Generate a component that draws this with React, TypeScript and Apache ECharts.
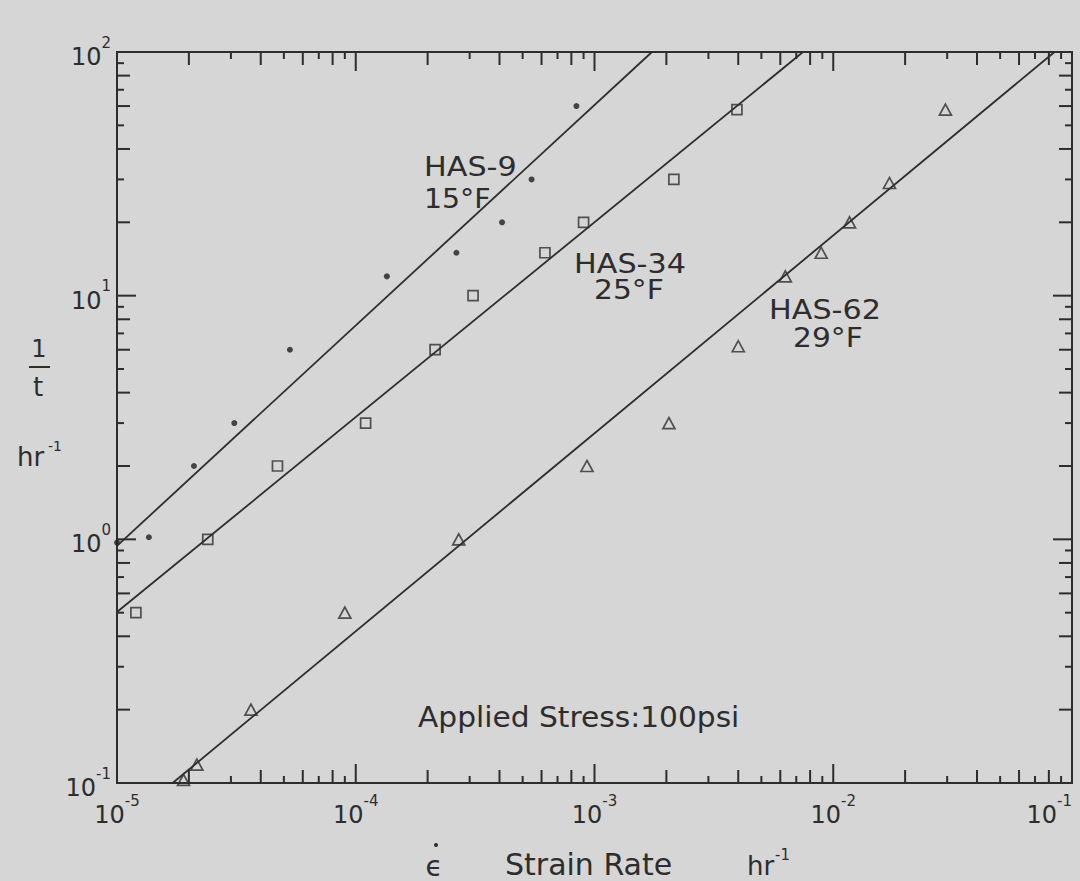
import React, { useEffect, useRef } from "react";
import * as echarts from "echarts";

// ---- axis ranges ----
const X_MIN = 1e-5;
const X_MAX = 1e-1;
const Y_MIN = 0.1;
const Y_MAX = 100;

// ---- data: [strain rate (hr^-1), 1/t (hr^-1)] ----
const has9Points: number[][] = [
  [1.0e-5, 0.97], [1.36e-5, 1.02], [2.1e-5, 2.0], [3.1e-5, 3.0], [5.3e-5, 6.0],
  [1.35e-4, 12], [2.64e-4, 15], [4.1e-4, 20], [5.45e-4, 30], [8.4e-4, 60],
];
const has34Points: number[][] = [
  [1.2e-5, 0.5], [2.4e-5, 1.0], [4.7e-5, 2.0], [1.1e-4, 3.0], [2.15e-4, 6.0],
  [3.1e-4, 10], [6.2e-4, 15], [9.0e-4, 20], [2.15e-3, 30], [3.95e-3, 58],
];
const has62Points: number[][] = [
  [1.9e-5, 0.103], [2.16e-5, 0.119], [3.64e-5, 0.2], [9.0e-5, 0.5], [2.7e-4, 1.0],
  [9.3e-4, 2.0], [2.05e-3, 3.0], [4.0e-3, 6.2], [6.3e-3, 12], [8.9e-3, 15],
  [1.17e-2, 20], [1.72e-2, 29], [2.95e-2, 58],
];

// ---- fitted lines (end points) ----
const has9Fit: number[][] = [[1e-5, 0.94], [1.74e-3, 100]];
const has34Fit: number[][] = [[1e-5, 0.503], [7.47e-3, 100]];
const has62Fit: number[][] = [[1.71e-5, 0.1], [0.0845, 100]];

// ---- tick structure ----
const xTickDecades = [-5, -4, -3, -2, -1];
const yTickDecades = [-1, 0, 1, 2];
const tickMantissas = [1, 2, 3, 4, 5, 6, 7, 8, 9];

const INK = "#2d2d2d";
const BG = "#d6d6d6";
const FONT = "'DejaVu Sans', 'Liberation Sans', sans-serif";
const W = 1080;
const H = 881;

function tickValues(decades: number[], max: number): number[] {
  const out: number[] = [];
  decades.forEach((d) => {
    tickMantissas.forEach((m) => {
      const v = Number((m * Math.pow(10, d)).toPrecision(6));
      if (v <= max * 1.0000001) out.push(v);
    });
  });
  return out;
}

function tickLen(v: number): number {
  const e = Math.floor(Math.log10(v) + 1e-9);
  const m = Math.round(v / Math.pow(10, e));
  if (m === 1) return 19;
  return m % 2 === 0 ? 13 : 7;
}

function powLabel(v: number): string {
  const e = Math.round(Math.log10(v));
  return `{b|10}{s|${e}}`;
}

const labelRich = {
  b: { fontSize: 24, lineHeight: 34, verticalAlign: "bottom", fontFamily: FONT, color: INK },
  s: { fontSize: 15, lineHeight: 12, verticalAlign: "top", fontFamily: FONT, color: INK },
};

function txt(text: string, x: number, y: number, fontSize: number, opts: any = {}) {
  return {
    type: "text",
    x,
    y,
    scaleX: opts.scaleX ?? 1,
    silent: true,
    style: {
      text,
      fill: INK,
      fontSize,
      fontFamily: FONT,
      textAlign: opts.align ?? "left",
      textVerticalAlign: "middle",
    },
  };
}

export default function App() {
  const ref = useRef<HTMLDivElement | null>(null);

  useEffect(() => {
    if (!ref.current) return;
    document.documentElement.style.overflow = "hidden";
    document.body.style.overflow = "hidden";
    const chart = echarts.init(ref.current, null, { renderer: "svg", width: W, height: H });

    const xTicks = tickValues(xTickDecades, X_MAX).map((v) => [v, 1]);
    const yTicks = tickValues(yTickDecades, Y_MAX).map((v) => [1e-3, v]);

    const tickStyle = { stroke: INK, lineWidth: 2 };

    const option: any = {
      animation: false,
      backgroundColor: BG,
      grid: {
        left: 117,
        right: 8,
        top: 52,
        bottom: 98,
        show: true,
        borderColor: INK,
        borderWidth: 2,
        backgroundColor: "transparent",
        containLabel: false,
        outerBoundsMode: "none",
      },
      xAxis: {
        type: "log",
        logBase: 10,
        min: X_MIN,
        max: X_MAX,
        axisLine: { show: false },
        axisTick: { show: false },
        splitLine: { show: false },
        axisLabel: {
          margin: 10,
          showMinLabel: true,
          showMaxLabel: true,
          alignMaxLabel: "right",
          formatter: powLabel,
          rich: labelRich,
        },
      },
      yAxis: {
        type: "log",
        logBase: 10,
        min: Y_MIN,
        max: Y_MAX,
        axisLine: { show: false },
        axisTick: { show: false },
        splitLine: { show: false },
        axisLabel: {
          margin: 6,
          showMinLabel: true,
          showMaxLabel: true,
          formatter: powLabel,
          rich: labelRich,
        },
      },
      series: [
        {
          type: "custom",
          name: "xticks",
          silent: true,
          data: xTicks,
          encode: { x: 0, y: 1 },
          renderItem: (params: any, api: any) => {
            const v = api.value(0);
            const len = tickLen(v);
            const b = api.coord([v, Y_MIN]);
            const t = api.coord([v, Y_MAX]);
            return {
              type: "group",
              children: [
                { type: "line", shape: { x1: b[0], y1: b[1], x2: b[0], y2: b[1] - len }, style: tickStyle },
                { type: "line", shape: { x1: t[0], y1: t[1], x2: t[0], y2: t[1] + len }, style: tickStyle },
              ],
            };
          },
        },
        {
          type: "custom",
          name: "yticks",
          silent: true,
          data: yTicks,
          encode: { x: 0, y: 1 },
          renderItem: (params: any, api: any) => {
            const v = api.value(1);
            const len = tickLen(v);
            const l = api.coord([X_MIN, v]);
            const r = api.coord([X_MAX, v]);
            return {
              type: "group",
              children: [
                { type: "line", shape: { x1: l[0], y1: l[1], x2: l[0] + len, y2: l[1] }, style: tickStyle },
                { type: "line", shape: { x1: r[0], y1: r[1], x2: r[0] - len, y2: r[1] }, style: tickStyle },
              ],
            };
          },
        },
        {
          type: "line",
          name: "HAS-9 fit",
          data: has9Fit,
          showSymbol: false,
          symbol: "none",
          lineStyle: { color: INK, width: 1.8 },
          clip: true,
        },
        {
          type: "line",
          name: "HAS-34 fit",
          data: has34Fit,
          showSymbol: false,
          symbol: "none",
          lineStyle: { color: INK, width: 1.8 },
          clip: true,
        },
        {
          type: "line",
          name: "HAS-62 fit",
          data: has62Fit,
          showSymbol: false,
          symbol: "none",
          lineStyle: { color: INK, width: 1.8 },
          clip: true,
        },
        {
          type: "scatter",
          name: "HAS-9",
          data: has9Points,
          symbol: "circle",
          symbolSize: 6,
          clip: false,
          itemStyle: { color: "#1e1e1e" },
        },
        {
          type: "scatter",
          name: "HAS-34",
          data: has34Points,
          symbol: "rect",
          symbolSize: 10,
          clip: false,
          itemStyle: { color: "transparent", borderColor: INK, borderWidth: 1.7 },
        },
        {
          type: "scatter",
          name: "HAS-62",
          data: has62Points,
          symbol: "triangle",
          symbolSize: [12, 11],
          clip: false,
          itemStyle: { color: "transparent", borderColor: INK, borderWidth: 1.7 },
        },
      ],
      graphic: [
        txt("HAS-9", 424, 167, 27, { scaleX: 1.12 }),
        txt("15°F", 424, 199, 27, { scaleX: 1.05 }),
        txt("HAS-34", 574, 264, 27, { scaleX: 1.12 }),
        txt("25°F", 594, 290, 27, { scaleX: 1.1 }),
        txt("HAS-62", 769, 310, 27, { scaleX: 1.12 }),
        txt("29°F", 793, 338, 27, { scaleX: 1.1 }),
        txt("Applied Stress:100psi", 418, 717, 28, { scaleX: 1.06 }),
        // x-axis title
        txt("ϵ", 434, 866, 28, { align: "center" }),
        { type: "circle", silent: true, shape: { cx: 436, cy: 845, r: 2 }, style: { fill: INK } },
        txt("Strain Rate", 505, 864, 30),
        txt("hr", 747, 866, 26),
        txt("-1", 775, 855, 15),
        // y-axis title
        txt("1", 39, 349, 24, { align: "center" }),
        { type: "line", silent: true, shape: { x1: 29, y1: 367, x2: 50, y2: 367 }, style: { stroke: INK, lineWidth: 2 } },
        txt("t", 38, 387, 26, { align: "center" }),
        txt("hr", 17, 457, 26),
        txt("-1", 48, 446, 14),
      ],
    };

    chart.setOption(option);
    return () => {
      chart.dispose();
    };
  }, []);

  return (
    <div
      ref={ref}
      style={{ position: "absolute", left: 0, top: 0, width: W, height: H, overflow: "hidden" }}
    />
  );
}
